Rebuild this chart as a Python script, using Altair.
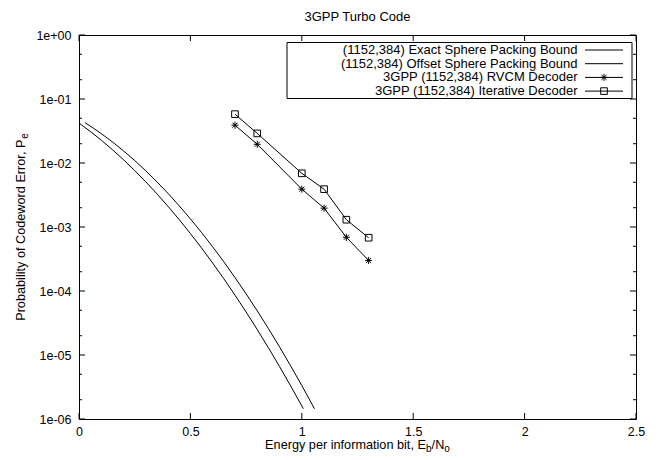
import altair as alt
import pandas as pd

# ---------------- data ----------------
exact_x = [0.0, 0.1, 0.2, 0.3, 0.4, 0.5, 0.6, 0.7, 0.8, 0.9, 1.0, 1.007]
exact_pe = [4.217e-2, 2.275e-2, 1.122e-2, 5.07e-3, 2.094e-3, 7.907e-4, 2.735e-4, 8.63e-5,
            2.50e-5, 6.61e-6, 1.60e-6, 1.445e-6]
offset_x = [0.027, 0.1, 0.2, 0.3, 0.4, 0.5, 0.6, 0.7, 0.8, 0.9, 1.0, 1.057]
offset_pe = [4.266e-2, 2.877e-2, 1.545e-2, 7.534e-3, 3.334e-3, 1.340e-3, 4.898e-4, 1.626e-4,
             4.898e-5, 1.340e-5, 3.334e-6, 1.445e-6]
dec_x = [0.7, 0.8, 1.0, 1.1, 1.2, 1.3]
rvcm_pe = [0.039, 0.0196, 0.0039, 0.00197, 0.00069, 0.0003]
iter_pe = [0.058, 0.029, 0.0069, 0.0039, 0.0013, 0.00068]

series_names = [
    "(1152,384) Exact Sphere Packing Bound",
    "(1152,384) Offset Sphere Packing Bound",
    "3GPP (1152,384) RVCM Decoder",
    "3GPP (1152,384) Iterative Decoder",
]
title_text = "3GPP Turbo Code"
x_title_parts = ["Energy per information bit, E", "b", "/N", "o"]
y_title_parts = ["Probability of Codeword Error, P", "e"]

x_ticks = [0, 0.5, 1, 1.5, 2, 2.5]
y_major = [1, 1e-1, 1e-2, 1e-3, 1e-4, 1e-5, 1e-6]
y_minor = [5e-1, 2e-1, 5e-2, 2e-2, 5e-3, 2e-3, 5e-4, 2e-4, 5e-5, 2e-5, 5e-6, 2e-6]
y_tick_labels = ["1e+00", "1e-01", "1e-02", "1e-03", "1e-04", "1e-05", "1e-06"]

# ---------------- layout / style ----------------
W, H = 557, 384
FONT = "Liberation Sans"
FS_TICK = 12.5
FS_AX = 12.7
FS_SUB = 10
FS_LEG = 13
ASTERISK = "M-1,0L1,0M0,-1L0,1M-0.72,-0.72L0.72,0.72M-0.72,0.72L0.72,-0.72"

# Arial / Liberation Sans advance widths (per 1000 em)
AW = {' ': 278, '(': 333, ')': 333, ',': 278, '/': 278, '.': 278,
      'a': 556, 'b': 556, 'c': 500, 'd': 556, 'e': 556, 'f': 278, 'g': 556,
      'h': 556, 'i': 222, 'k': 500, 'l': 222, 'm': 833, 'n': 556, 'o': 556,
      'p': 556, 'r': 333, 't': 278, 'u': 556, 'w': 722, 'x': 500, 'y': 500,
      'B': 667, 'C': 722, 'E': 667, 'N': 722, 'P': 667, 'S': 667}


def tw(s, fs):
    return sum(AW.get(c, 556) for c in s) * fs / 1000.0


xs = alt.Scale(domain=[0, 2.5], nice=False, zero=False)
ys = alt.Scale(type="log", domain=[1e-6, 1], nice=False)
label_expr = "[" + ",".join("'%s'" % s for s in y_tick_labels) + "][round(-log(datum.value)/LN10)]"
xaxis = alt.Axis(values=x_ticks, format="~g", title=None, ticks=False, domain=False, grid=False,
                 labelPadding=6, labelFontSize=FS_TICK, labelFont=FONT, labelColor="black",
                 labelFlush=False, labelOverlap=False)
yaxis = alt.Axis(values=y_major, labelExpr=label_expr, title=None, ticks=False, domain=False,
                 grid=False, labelPadding=8, labelFontSize=FS_TICK, labelFont=FONT,
                 labelColor="black", labelFlush=False, labelOverlap=False)


def X(f):
    return alt.X(f, type="quantitative", scale=xs, axis=xaxis)


def Y(f):
    return alt.Y(f, type="quantitative", scale=ys, axis=yaxis)


bounds = pd.DataFrame({
    "x": exact_x + offset_x,
    "pe": exact_pe + offset_pe,
    "series": [series_names[0]] * len(exact_x) + [series_names[1]] * len(offset_x),
})
rvcm = pd.DataFrame({"x": dec_x, "pe": rvcm_pe, "series": series_names[2]})
iterd = pd.DataFrame({"x": dec_x, "pe": iter_pe, "series": series_names[3]})

layers = []
layers.append(alt.Chart(bounds).mark_line(color="black", strokeWidth=1, interpolate="monotone")
              .encode(x=X("x"), y=Y("pe"), detail="series:N"))
for df, shape, size in [(rvcm, ASTERISK, 49), (iterd, "square", 44)]:
    layers.append(alt.Chart(df).mark_line(color="black", strokeWidth=1).encode(x=X("x"), y=Y("pe")))
    layers.append(alt.Chart(df).mark_point(shape=shape, size=size, filled=False, stroke="black",
                                           strokeWidth=1, opacity=1).encode(x=X("x"), y=Y("pe")))

# inward ticks on all four sides
xt = pd.DataFrame({"v": x_ticks})
layers.append(alt.Chart(xt).mark_rule(color="black", strokeWidth=1)
              .encode(x=X("v"), y=alt.value(H), y2=alt.value(H - 6)))
layers.append(alt.Chart(xt).mark_rule(color="black", strokeWidth=1)
              .encode(x=X("v"), y=alt.value(0), y2=alt.value(6)))
for vals, ln in [(y_major, 6), (y_minor, 3)]:
    yt = pd.DataFrame({"v": vals})
    layers.append(alt.Chart(yt).mark_rule(color="black", strokeWidth=1)
                  .encode(y=Y("v"), x=alt.value(0), x2=alt.value(ln)))
    layers.append(alt.Chart(yt).mark_rule(color="black", strokeWidth=1)
                  .encode(y=Y("v"), x=alt.value(W), x2=alt.value(W - ln)))

# legend box (gnuplot style)
one = pd.DataFrame({"k": [0]})
layers.append(alt.Chart(one).mark_rect(fill="white", stroke="black", strokeWidth=1)
              .encode(x=alt.value(208), x2=alt.value(553), y=alt.value(7.5), y2=alt.value(63.5)))
for i, name in enumerate(series_names):
    ry = 15 + 13.7 * i
    layers.append(alt.Chart(pd.DataFrame({"t": [name]}))
                  .mark_text(align="right", baseline="middle", font=FONT, fontSize=FS_LEG, color="black")
                  .encode(text="t:N", x=alt.value(498.5), y=alt.value(ry)))
    layers.append(alt.Chart(one).mark_rule(color="black", strokeWidth=1)
                  .encode(x=alt.value(506), x2=alt.value(544), y=alt.value(ry)))
    if i == 2:
        layers.append(alt.Chart(one).mark_point(shape=ASTERISK, size=49, filled=False, stroke="black",
                                                strokeWidth=1, opacity=1)
                      .encode(x=alt.value(525), y=alt.value(ry)))
    if i == 3:
        layers.append(alt.Chart(one).mark_point(shape="square", size=44, filled=False, stroke="black",
                                                strokeWidth=1, opacity=1)
                      .encode(x=alt.value(525), y=alt.value(ry)))

# chart title
layers.append(alt.Chart(pd.DataFrame({"t": [title_text]}))
              .mark_text(align="center", baseline="alphabetic", font=FONT, fontSize=13, color="black")
              .encode(text="t:N", x=alt.value(W / 2), y=alt.value(-14)))


def pieces(parts, x0, y0, angle, sub_dy):
    out = []
    off = 0.0
    for j, p in enumerate(parts):
        sub = (j % 2 == 1)
        fs = FS_SUB if sub else FS_AX
        out.append(alt.Chart(pd.DataFrame({"t": [p]}))
                   .mark_text(align="left", baseline="alphabetic", font=FONT, fontSize=fs,
                              color="black", angle=angle, dx=off, dy=sub_dy if sub else 0)
                   .encode(text="t:N", x=alt.value(x0), y=alt.value(y0)))
        off += tw(p, fs)
    return out, off


tot_x = sum(tw(p, FS_SUB if j % 2 else FS_AX) for j, p in enumerate(x_title_parts))
xp, _ = pieces(x_title_parts, W / 2 - tot_x / 2, 414, 0, 2.5)
layers += xp
tot_y = sum(tw(p, FS_SUB if j % 2 else FS_AX) for j, p in enumerate(y_title_parts))
yp, _ = pieces(y_title_parts, -54, H / 2 + tot_y / 2, 270, 3)
layers += yp

chart = alt.layer(*layers).properties(
    width=W, height=H, background="white",
    padding={"left": 71, "top": 27, "right": 18, "bottom": 33},
    autosize=alt.AutoSizeParams(type="none"),
).configure_view(stroke="black", strokeWidth=1)

chart.save("out.html", embed_options={"renderer": "svg", "actions": False})
